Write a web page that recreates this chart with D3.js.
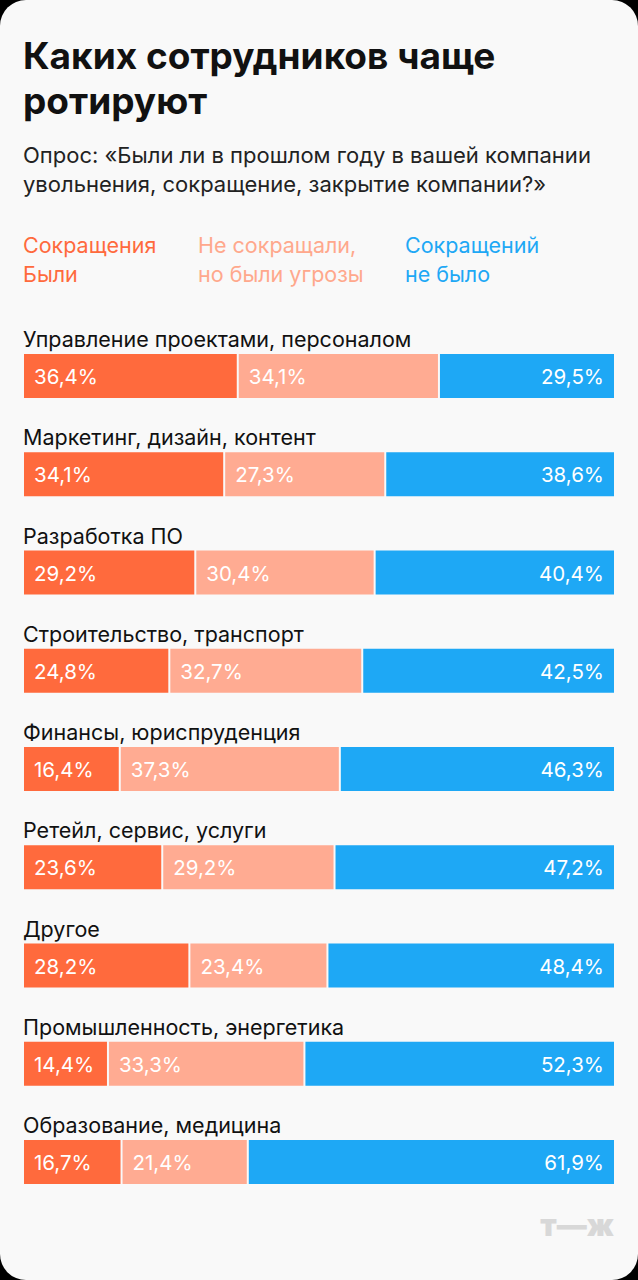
<!DOCTYPE html><html><head><meta charset="utf-8">
<script src="https://cdn.jsdelivr.net/npm/d3@7"></script>
<style>body{margin:0;background:#000;}svg{display:block;font-family:Inter,"Noto Sans",sans-serif;}</style></head><body>
<svg id="c" width="638" height="1280"></svg>
<script>
const categories=["Управление проектами, персоналом","Маркетинг, дизайн, контент","Разработка ПО","Строительство, транспорт","Финансы, юриспруденция","Ретейл, сервис, услуги","Другое","Промышленность, энергетика","Образование, медицина"];
const cut=[36.4,34.1,29.2,24.8,16.4,23.6,28.2,14.4,16.7];
const threat=[34.1,27.3,30.4,32.7,37.3,29.2,23.4,33.3,21.4];
const none=[29.5,38.6,40.4,42.5,46.3,47.2,48.4,52.3,61.9];
const seriesNames=[["Сокращения","Были"],["Не сокращали,","но были угрозы"],["Сокращений","не было"]];
const colors=["#ff6a3d","#ffab92","#1ea8f5"];
const svg=d3.select("#c");
svg.append("rect").attr("x",0).attr("y",0).attr("width",638).attr("height",1280).attr("rx",26).attr("fill","#f9f9f9");
const t=svg.append("text").attr("font-weight",700).attr("font-size",37).attr("fill","#111");
t.append("tspan").attr("x",23).attr("y",69).text("Каких сотрудников чаще");
t.append("tspan").attr("x",23).attr("y",114).text("ротируют");
const s=svg.append("text").attr("font-size",22).attr("fill","#222");
s.append("tspan").attr("x",23).attr("y",163).text("Опрос: «Были ли в прошлом году в вашей компании");
s.append("tspan").attr("x",23).attr("y",192).text("увольнения, сокращение, закрытие компании?»");
const lx=[23,198,405];
seriesNames.forEach((n,i)=>{n.forEach((l,j)=>svg.append("text").attr("x",lx[i]).attr("y",253+j*29).attr("font-size",21.5).attr("fill",colors[i]==="#ffab92"?"#ffa88c":colors[i]).text(l));});
const x=d3.scaleLinear().domain([0,100]).range([24,614]);
const y=d3.scaleBand().domain(categories).range([332,332+9*98.25]).paddingInner(0);
const series=[cut,threat,none];
categories.forEach((c,i)=>{
 const g=svg.append("g").attr("transform",`translate(0,${y(c)})`);
 g.append("text").attr("x",23).attr("y",15).attr("font-size",21.5).attr("fill","#111").text(c);
 let acc=0;
 series.forEach((ser,k)=>{
  const v=ser[i];const x0=x(acc),x1=x(acc+v);
  g.append("rect").attr("x",x0).attr("y",22).attr("width",x1-x0-(k<2?2:0)).attr("height",44).attr("fill",colors[k]);
  const lab=v.toFixed(1).replace(".",",")+"%";
  if(k<2)g.append("text").attr("x",x0+10).attr("y",52).attr("font-size",20.5).attr("fill","#fff").text(lab);
  else g.append("text").attr("x",x1-10).attr("y",52).attr("text-anchor","end").attr("font-size",20.5).attr("fill","#fff").text(lab);
  acc+=v;
 });
});
svg.append("text").attr("x",614).attr("y",1236).attr("text-anchor","end").attr("font-size",30).attr("font-weight",900).attr("fill","#d8d8d8").text("т—ж");
</script></body></html>
